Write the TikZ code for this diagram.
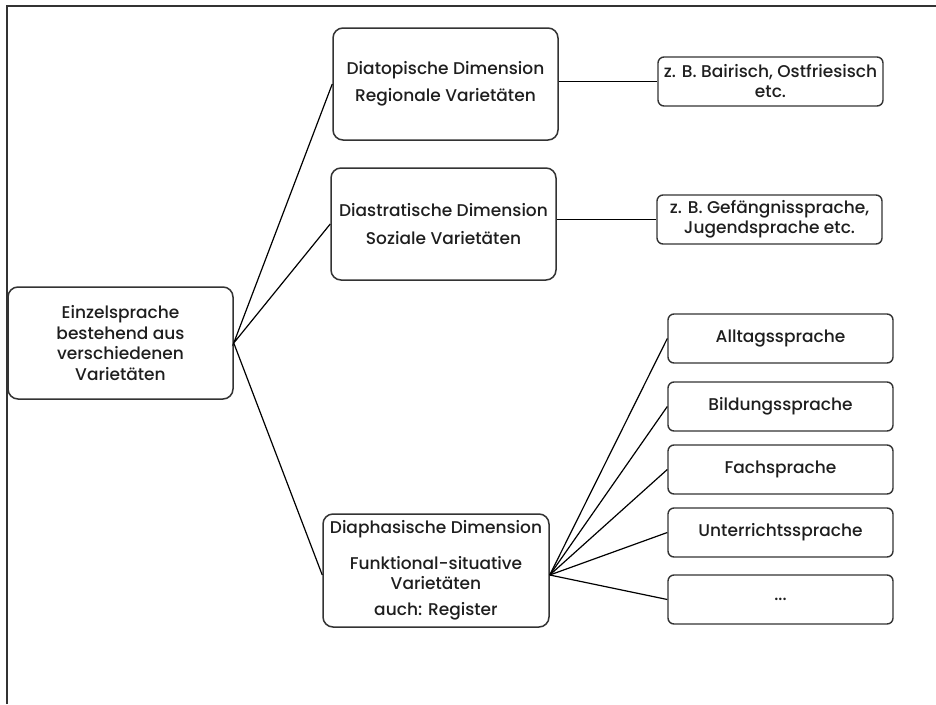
\documentclass[tikz,border=0pt]{standalone}
\usepackage{fontspec}
\setmainfont{Poppins}[UprightFont=* Medium]
\definecolor{ink}{HTML}{1E1E1E}
\definecolor{edge}{HTML}{333333}
\tikzset{
  bigbox/.style={draw=edge, line width=1.5pt, rounded corners=10pt, minimum width=225pt,
    minimum height=112pt, inner sep=0pt, align=center, text=ink,
    font=\fontsize{17}{20.5}\selectfont},
  smallbox/.style={draw=edge, line width=1.4pt, rounded corners=6pt, minimum width=225pt,
    minimum height=49pt, inner sep=0pt, align=center, text=ink,
    font=\fontsize{17}{20}\selectfont},
  link/.style={draw=black, line width=1.2pt}
}
\begin{document}
\begin{tikzpicture}[x=1pt, y=-1pt]
  \useasboundingbox (0,0) rectangle (936,704);
  % open frame: top and left edge
  \draw[edge, line width=1.5pt] (7,704) -- (7,6) -- (936,6);

  % root
  \node[bigbox] (ein) at (120.5,343) {Einzelsprache\\bestehend aus\\verschiedenen\\Varietäten};

  % dimensions
  \node[bigbox] (diat) at (445.5,84) {Diatopische Dimension\\[7pt]Regionale Varietäten};
  \node[bigbox] (dias) at (443.5,224) {Diastratische Dimension\\[7pt]Soziale Varietäten};
  \node[bigbox, minimum width=226pt, minimum height=113pt] (diaph) at (436,570.5)
    {Diaphasische Dimension\\[15pt]Funktional-situative\\Varietäten\\[5pt]auch: Register};

  % examples
  \node[smallbox] (bair) at (770.5,81.5) {z. B. Bairisch, Ostfriesisch\\etc.};
  \node[smallbox] (gef) at (769.5,219.5) {z. B. Gefängnissprache,\\Jugendsprache etc.};

  % registers
  \node[smallbox] (alt)  at (780.5,338.5) {Alltagssprache};
  \node[smallbox] (bil)  at (780.5,406.5) {Bildungssprache};
  \node[smallbox] (fach) at (780.5,469.5) {Fachsprache};
  \node[smallbox] (unt)  at (780.5,532.5) {Unterrichtssprache};
  \node[smallbox] (etc)  at (780.5,599.5) {...};

  % connectors
  \coordinate (phaspt) at ([yshift=-4.5pt]diaph.east);
  \draw[link] (diat.west) -- (ein.east) -- (dias.west);
  \draw[link] (ein.east) -- ([yshift=-4.5pt]diaph.west);
  \draw[link] (bair.west -| diat.east) -- (bair.west);
  \draw[link] (gef.west -| dias.east) -- (gef.west);
  \foreach \b in {alt,bil,fach,unt,etc}
    \draw[link] (phaspt) -- (\b.west);
\end{tikzpicture}
\end{document}
